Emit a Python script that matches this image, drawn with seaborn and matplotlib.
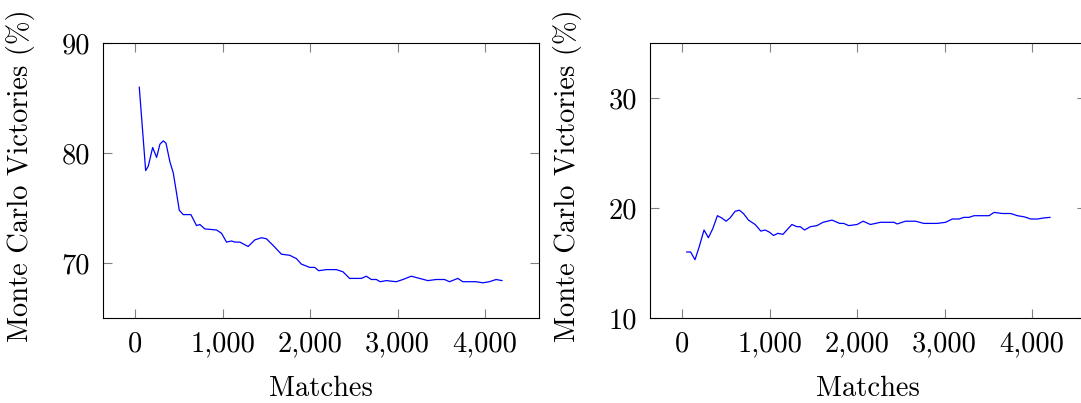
import matplotlib
matplotlib.use("Agg")
import matplotlib.pyplot as plt
import seaborn as sns
import pandas as pd

# ---- data ----
left_x = [49, 122, 152, 202, 247, 285, 323, 354, 399, 437, 468, 506, 551, 639, 703,
          741, 798, 932, 989, 1046, 1103, 1141, 1198, 1293, 1369, 1445, 1502, 1578,
          1673, 1768, 1844, 1901, 1996, 2053, 2099, 2186, 2300, 2376, 2452, 2509,
          2586, 2643, 2700, 2757, 2802, 2871, 2985, 3061, 3156, 3251, 3346, 3441,
          3536, 3593, 3688, 3745, 3897, 3973, 4049, 4125, 4194]
left_y = [86.0, 78.4, 78.8, 80.5, 79.6, 80.8, 81.1, 80.9, 79.2, 78.2, 76.7, 74.8,
          74.4, 74.4, 73.4, 73.5, 73.1, 73.0, 72.7, 71.9, 72.0, 71.9, 71.9, 71.5,
          72.1, 72.3, 72.2, 71.6, 70.8, 70.7, 70.4, 69.9, 69.6, 69.6, 69.3, 69.4,
          69.4, 69.2, 68.6, 68.6, 68.6, 68.8, 68.5, 68.5, 68.3, 68.4, 68.3, 68.5,
          68.8, 68.6, 68.4, 68.5, 68.5, 68.3, 68.6, 68.3, 68.3, 68.2, 68.3, 68.5,
          68.4]

right_x = [53, 99, 149, 198, 252, 302, 351, 405, 454, 504, 550, 607, 656, 702, 760,
           836, 901, 950, 1000, 1046, 1095, 1153, 1198, 1256, 1313, 1351, 1401,
           1466, 1542, 1611, 1714, 1802, 1847, 1905, 2000, 2069, 2153, 2267, 2420,
           2458, 2553, 2668, 2763, 2859, 2916, 3011, 3088, 3164, 3221, 3279, 3336,
           3450, 3508, 3565, 3660, 3756, 3832, 3908, 3985, 4061, 4137, 4206]
right_y = [16.0, 16.0, 15.3, 16.5, 18.0, 17.3, 18.1, 19.3, 19.1, 18.8, 19.1, 19.7,
           19.8, 19.5, 18.9, 18.5, 17.9, 18.0, 17.8, 17.5, 17.7, 17.6, 18.0, 18.5,
           18.3, 18.3, 18.0, 18.3, 18.4, 18.7, 18.9, 18.6, 18.6, 18.4, 18.5, 18.8,
           18.5, 18.7, 18.7, 18.55, 18.8, 18.8, 18.6, 18.6, 18.6, 18.7, 19.0, 19.0,
           19.15, 19.15, 19.3, 19.3, 19.3, 19.6, 19.5, 19.5, 19.3, 19.2, 19.0, 19.0,
           19.1, 19.15]

x_ticks = [0, 1000, 2000, 3000, 4000]
x_tick_labels = ["0", "1,000", "2,000", "3,000", "4,000"]
left_y_ticks = [70, 80, 90]
right_y_ticks = [10, 20, 30]
x_label = "Matches"
y_label = "Monte Carlo Victories (%)"

# ---- style ----
sns.set_style("ticks")
plt.rcParams['font.family'] = ['cmr10', 'DejaVu Serif']
plt.rcParams['axes.formatter.use_mathtext'] = True
plt.rcParams['axes.unicode_minus'] = False
plt.rcParams['text.color'] = 'black'
plt.rcParams['axes.labelcolor'] = 'black'

FS = 20.5
fig = plt.figure(figsize=(10.81, 4.03), dpi=100)
ax1 = fig.add_axes([0.0953, 0.2109, 0.4033, 0.6824])
ax2 = fig.add_axes([0.6013, 0.2109, 0.4033, 0.6824])

df_l = pd.DataFrame({"x": left_x, "y": left_y})
df_r = pd.DataFrame({"x": right_x, "y": right_y})
sns.lineplot(data=df_l, x="x", y="y", ax=ax1, color="#0000ff", linewidth=0.9)
sns.lineplot(data=df_r, x="x", y="y", ax=ax2, color="#0000ff", linewidth=0.9)

for ax, yticks, ylim in [(ax1, left_y_ticks, (65, 90)), (ax2, right_y_ticks, (10, 35))]:
    ax.set_xlim(-365, 4615)
    ax.set_ylim(*ylim)
    ax.set_xticks(x_ticks)
    ax.set_xticklabels(x_tick_labels)
    ax.set_yticks(yticks)
    ax.set_yticklabels([str(v) for v in yticks])
    ax.tick_params(axis="both", direction="in", length=6.5, width=0.8,
                   color="#808080", labelcolor="black", labelsize=FS,
                   top=True, right=True, pad=9.5)
    for s in ax.spines.values():
        s.set_visible(True)
        s.set_color("black")
        s.set_linewidth(0.8)
    ax.set_xlabel(x_label, fontsize=FS, color="black")
    ax.set_ylabel(y_label, fontsize=FS, color="black")
    ax.xaxis.set_label_coords(0.5, -0.21)
    ax.yaxis.set_label_coords(-0.157, 0.516)
    ax.grid(False)

fig.savefig("out.png", dpi=100)
